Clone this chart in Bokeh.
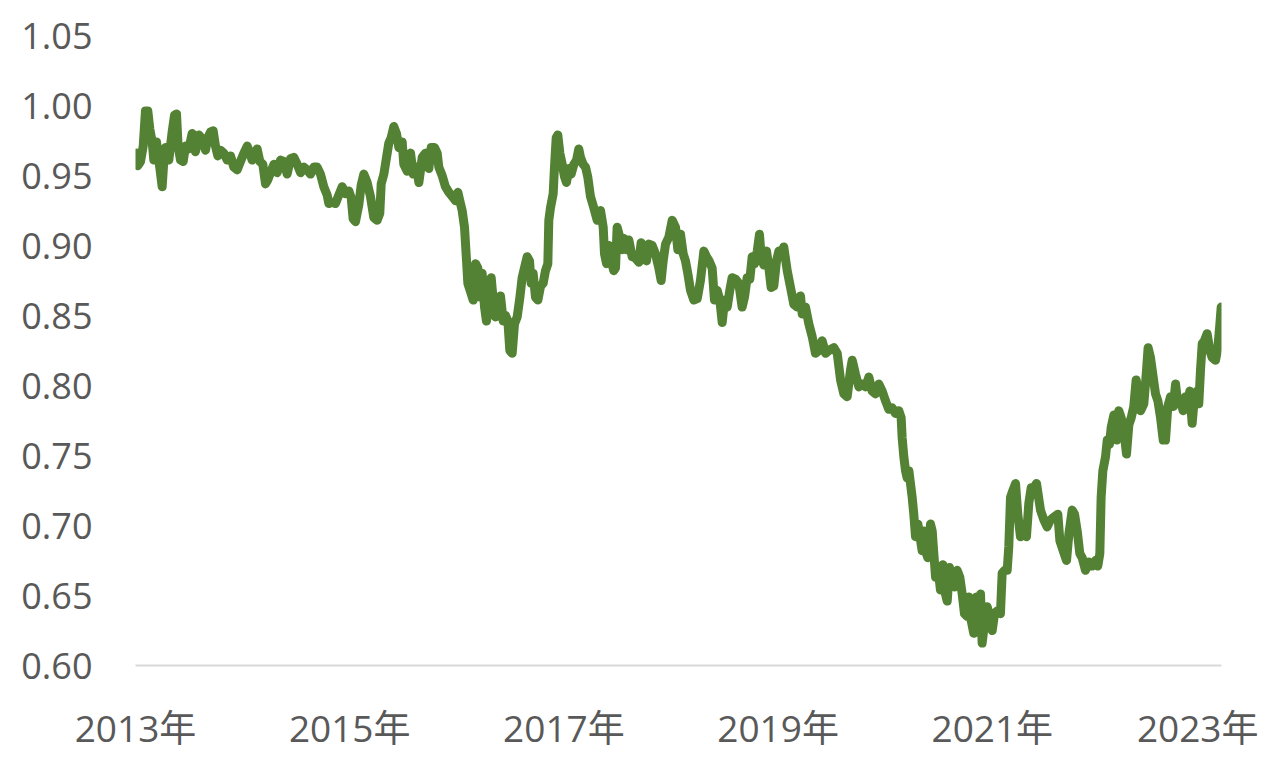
from bokeh.plotting import figure
from bokeh.models import FixedTicker, NumeralTickFormatter, Range1d
from bokeh.embed import file_html
from bokeh.resources import INLINE

# decimal-year positions and values
years = [
 2013.009,2013.022,2013.047,2013.072,2013.093,2013.115,2013.134,2013.156,2013.171,2013.196,
 2013.218,2013.249,2013.265,2013.280,2013.311,2013.342,2013.364,2013.383,2013.398,2013.420,
 2013.445,2013.467,2013.498,2013.529,2013.560,2013.591,2013.623,2013.654,2013.675,2013.700,
 2013.725,2013.747,2013.769,2013.794,2013.825,2013.856,2013.887,2013.918,2013.949,2013.980,
 2014.012,2014.043,2014.068,2014.089,2014.111,2014.136,2014.161,2014.189,2014.214,2014.236,
 2014.261,2014.292,2014.323,2014.354,2014.385,2014.416,2014.447,2014.478,2014.510,2014.541,
 2014.572,2014.603,2014.634,2014.665,2014.696,2014.727,2014.758,2014.790,2014.805,2014.836,
 2014.867,2014.898,2014.930,2014.961,2014.992,2015.014,2015.032,2015.054,2015.085,2015.107,
 2015.132,
 2015.163,2015.194,2015.225,2015.256,2015.281,2015.294,2015.319,2015.344,2015.365,2015.387,
 2015.412,2015.437,2015.459,2015.490,2015.505,2015.537,2015.568,2015.593,2015.624,2015.646,
 2015.677,2015.708,2015.739,2015.761,2015.792,2015.817,2015.832,2015.863,2015.894,2015.926,
 2015.957,2015.988,2016.010,2016.028,2016.050,2016.072,2016.091,2016.103,2016.128,2016.153,
 2016.175,2016.196,2016.221,2016.237,2016.259,2016.277,2016.299,2016.321,2016.346,2016.361,
 2016.383,2016.408,2016.433,2016.455,2016.477,2016.495,2016.517,2016.539,2016.564,2016.589,
 2016.610,2016.632,2016.657,2016.679,2016.694,2016.713,2016.735,2016.757,2016.782,2016.806,
 2016.828,2016.850,2016.859,2016.875,2016.900,2016.912,2016.928,2016.943,2016.962,2016.984,
 2017.006,2017.024,2017.046,2017.068,2017.093,2017.118,2017.139,2017.155,2017.180,2017.202,
 2017.223,2017.248,
 2017.279,2017.311,2017.342,2017.367,2017.379,2017.398,2017.420,2017.441,2017.466,2017.482,
 2017.497,2017.522,2017.544,2017.560,2017.585,2017.606,2017.637,2017.669,2017.700,2017.721,
 2017.746,2017.771,2017.793,2017.824,2017.855,2017.886,2017.908,2017.927,2017.949,2017.980,
 2018.011,2018.042,2018.064,2018.089,2018.114,2018.135,2018.157,2018.182,2018.213,2018.245,
 2018.275,2018.307,2018.331,2018.356,2018.384,2018.406,2018.431,2018.456,2018.478,2018.500,
 2018.525,2018.549,2018.571,2018.602,2018.633,2018.664,2018.686,2018.711,2018.736,2018.758,
 2018.780,2018.805,2018.826,2018.842,2018.867,2018.892,2018.914,2018.935,2018.960,2018.985,
 2019.007,2019.029,2019.053,
 2019.085,2019.116,2019.147,2019.178,2019.209,2019.225,2019.256,2019.287,2019.318,2019.349,
 2019.380,2019.411,2019.443,2019.474,2019.520,2019.552,2019.583,2019.614,2019.645,2019.676,
 2019.692,2019.723,2019.754,2019.785,2019.816,2019.847,2019.878,2019.909,2019.941,2019.972,
 2020.003,2020.034,2020.065,2020.096,2020.127,2020.149,2020.158,2020.174,2020.190,2020.205,
 2020.221,2020.236,2020.252,2020.267,2020.283,2020.305,2020.329,2020.345,2020.361,2020.376,
 2020.398,2020.423,2020.439,2020.454,2020.470,2020.492,2020.516,2020.538,2020.563,2020.579,
 2020.600,2020.625,2020.647,2020.672,2020.697,2020.719,2020.740,2020.765,2020.781,2020.803,
 2020.827,2020.852,2020.874,2020.890,2020.905,2020.927,2020.952,2020.977,2020.999,2021.021,
 2021.046,2021.076,2021.092,2021.114,2021.139,2021.154,2021.170,2021.192,2021.217,2021.238,
 2021.263,2021.295,2021.319,2021.341,2021.363,2021.388,2021.413,
 2021.450,2021.481,2021.512,2021.543,2021.575,2021.612,2021.631,2021.662,2021.693,2021.715,
 2021.746,2021.768,2021.793,2021.817,2021.839,2021.870,2021.901,2021.932,2021.964,2021.985,
 2022.004,2022.016,2022.032,2022.057,2022.073,2022.094,2022.110,2022.135,2022.160,2022.181,
 2022.203,2022.228,2022.253,2022.275,2022.297,2022.321,2022.343,2022.359,2022.384,2022.415,
 2022.437,2022.455,2022.477,2022.502,2022.524,2022.546,2022.571,2022.596,2022.617,2022.639,
 2022.664,2022.689,2022.711,2022.732,2022.757,2022.782,2022.804,2022.826,2022.844,2022.866,
 2022.888,2022.913,2022.928,2022.944,2022.960,2022.981,2023.006,2023.031,2023.053,2023.084,
 2023.106,2023.125,2023.137,
]

rates = [
 0.966,0.957,0.960,0.971,0.996,0.996,0.983,0.974,0.961,0.974,
 0.961,0.942,0.961,0.970,0.961,0.981,0.993,0.994,0.971,0.961,
 0.960,0.971,0.969,0.980,0.967,0.979,0.976,0.968,0.977,0.981,
 0.982,0.971,0.964,0.968,0.966,0.961,0.964,0.956,0.954,0.960,
 0.966,0.971,0.966,0.961,0.966,0.969,0.960,0.958,0.944,0.947,
 0.952,0.958,0.952,0.961,0.960,0.951,0.962,0.963,0.958,0.952,
 0.956,0.954,0.951,0.956,0.956,0.951,0.942,0.936,0.930,0.931,
 0.930,0.936,0.942,0.937,0.939,0.934,0.919,0.917,0.929,0.943,
 0.951,
 0.945,0.935,0.920,0.918,0.923,0.944,0.951,0.963,0.973,0.977,
 0.985,0.980,0.970,0.974,0.958,0.953,0.966,0.951,0.956,0.945,
 0.963,0.966,0.955,0.970,0.970,0.966,0.956,0.950,0.942,0.938,
 0.935,0.932,0.938,0.932,0.925,0.913,0.889,0.873,0.867,0.861,
 0.887,0.884,0.863,0.880,0.856,0.846,0.863,0.877,0.856,0.849,
 0.861,0.864,0.846,0.850,0.846,0.825,0.823,0.844,0.849,0.863,
 0.877,0.884,0.892,0.889,0.873,0.880,0.863,0.861,0.871,0.873,
 0.882,0.887,0.918,0.927,0.937,0.956,0.977,0.979,0.966,0.958,
 0.949,0.945,0.955,0.951,0.958,0.961,0.969,0.963,0.958,0.956,
 0.949,0.935,
 0.927,0.918,0.925,0.913,0.894,0.887,0.900,0.889,0.882,0.884,
 0.913,0.906,0.897,0.905,0.897,0.904,0.892,0.891,0.888,0.902,
 0.899,0.889,0.901,0.900,0.894,0.884,0.875,0.889,0.901,0.906,
 0.918,0.913,0.897,0.908,0.894,0.889,0.880,0.868,0.861,0.862,
 0.875,0.896,0.892,0.889,0.884,0.861,0.868,0.861,0.845,0.861,
 0.856,0.868,0.877,0.876,0.873,0.856,0.863,0.877,0.876,0.892,
 0.887,0.896,0.908,0.892,0.886,0.896,0.884,0.870,0.871,0.889,
 0.896,0.892,0.899,
 0.882,0.870,0.858,0.856,0.864,0.851,0.856,0.844,0.835,0.823,
 0.825,0.832,0.823,0.825,0.827,0.823,0.804,0.794,0.792,0.811,
 0.818,0.808,0.799,0.801,0.799,0.806,0.796,0.794,0.801,0.796,
 0.789,0.783,0.784,0.780,0.782,0.777,0.763,0.749,0.739,0.734,
 0.739,0.730,0.720,0.708,0.692,0.701,0.690,0.682,0.696,0.682,
 0.677,0.701,0.696,0.680,0.663,0.670,0.654,0.672,0.651,0.646,
 0.670,0.658,0.656,0.668,0.663,0.651,0.637,0.635,0.649,0.632,
 0.623,0.649,0.637,0.651,0.616,0.630,0.642,0.635,0.625,0.637,
 0.639,0.637,0.666,0.668,0.668,0.685,0.720,0.725,0.730,0.708,
 0.692,0.694,0.692,0.716,0.727,0.727,0.730,
 0.711,0.704,0.699,0.704,0.706,0.708,0.689,0.682,0.675,0.694,
 0.711,0.708,0.696,0.680,0.677,0.668,0.674,0.671,0.675,0.671,
 0.680,0.720,0.739,0.749,0.761,0.758,0.770,0.779,0.761,0.782,
 0.777,0.768,0.751,0.772,0.777,0.785,0.804,0.797,0.782,0.787,
 0.808,0.827,0.820,0.806,0.794,0.789,0.777,0.761,0.761,0.785,
 0.792,0.785,0.801,0.787,0.789,0.782,0.792,0.787,0.796,0.773,
 0.792,0.796,0.787,0.811,0.830,0.832,0.837,0.825,0.820,0.818,
 0.827,0.844,0.856,
]

x_ticks = [2013, 2015, 2017, 2019, 2021, 2023]
x_tick_labels = ["2013年", "2015年", "2017年", "2019年", "2021年", "2023年"]
y_ticks = [0.60, 0.65, 0.70, 0.75, 0.80, 0.85, 0.90, 0.95, 1.00, 1.05]

FONT = "'Open Sans', 'Noto Sans CJK SC', sans-serif"
TEXT = "#595959"

p = figure(width=1258, height=765, output_backend="svg", toolbar_location=None,
           x_range=Range1d(2013.0, 2023.14), y_range=Range1d(0.60, 1.05),
           min_border_left=135, min_border_right=37, min_border_top=35,
           min_border_bottom=100)
p.outline_line_color = None
p.background_fill_color = "white"
p.border_fill_color = "white"
p.xgrid.visible = False
p.ygrid.visible = False

p.line(years, rates, line_color="#548235", line_width=9,
       line_join="round", line_cap="round")

xa = p.xaxis[0]
xa.ticker = FixedTicker(ticks=x_ticks)
xa.major_label_overrides = {t: l for t, l in zip(x_ticks, x_tick_labels)}
xa.axis_line_color = "#d9d9d9"
xa.axis_line_width = 2
xa.major_tick_line_color = None
xa.minor_tick_line_color = None
xa.major_label_text_font = FONT
xa.major_label_text_font_size = "37px"
xa.major_label_text_color = TEXT
xa.major_label_standoff = 30

ya = p.yaxis[0]
ya.ticker = FixedTicker(ticks=y_ticks)
ya.formatter = NumeralTickFormatter(format="0.00")
ya.axis_line_color = None
ya.major_tick_line_color = None
ya.minor_tick_line_color = None
ya.major_label_text_font = FONT
ya.major_label_text_font_size = "36px"
ya.major_label_text_color = TEXT
ya.major_label_standoff = 37

open("out.html", "w").write(file_html(p, INLINE))
